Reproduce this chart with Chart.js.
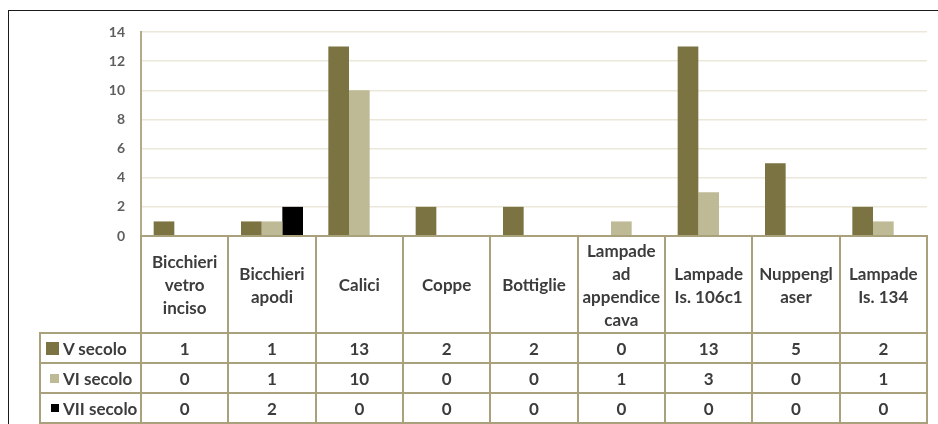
<!DOCTYPE html>
<html><head><meta charset="utf-8">
<script src="https://cdn.jsdelivr.net/npm/chart.js@4/dist/chart.umd.min.js"></script>
<style>
html,body{margin:0;padding:0;background:#fff;}
#wrap{position:relative;width:938px;height:424px;overflow:hidden;font-family:Lato,"Open Sans",sans-serif;}
#frame{position:absolute;left:8px;top:10px;width:960px;height:440px;border-left:1.5px solid #1a1a1a;border-top:1.5px solid #1a1a1a;box-sizing:border-box;}
#c{position:absolute;left:0;top:0;}
#tbl{position:absolute;left:0;top:0;width:938px;height:424px;}
.cell{position:absolute;box-sizing:border-box;border:2px solid #a8a17c;display:flex;align-items:center;justify-content:center;text-align:center;color:#3c3c3c;font-weight:700;font-size:17px;line-height:23px;background:transparent;}
.leg{justify-content:flex-start;}
.sw{position:absolute;}
.lt{position:absolute;left:22px;white-space:nowrap;}
</style></head>
<body><div id="wrap"><div id="frame"></div><canvas id="c" width="938" height="424"></canvas><div id="tbl"></div></div>
<script>
const categories = [["Bicchieri","vetro","inciso"],["Bicchieri","apodi"],["Calici"],["Coppe"],["Bottiglie"],["Lampade","ad","appendice","cava"],["Lampade","Is. 106c1"],["Nuppengl","aser"],["Lampade","Is. 134"]];
const seriesNames = ["V secolo","VI secolo","VII secolo"];
const vSecolo = [1,1,13,2,2,0,13,5,2];
const viSecolo = [0,1,10,0,0,1,3,0,1];
const viiSecolo = [0,2,0,0,0,0,0,0,0];
const yTicks = [0,2,4,6,8,10,12,14];

const seriesValues = [vSecolo, viSecolo, viiSecolo];
const seriesColors = ["#7b7341","#bfba96","#000000"];
const swatchSizes = [13,9,8];

const chart = new Chart(document.getElementById('c'), {
  type: 'bar',
  data: {
    labels: categories.map(c => c.join(' ')),
    datasets: seriesNames.map((n,i) => ({
      label: n, data: seriesValues[i], backgroundColor: seriesColors[i],
      borderWidth: 0, categoryPercentage: 0.71, barPercentage: 1.0
    }))
  },
  options: {
    responsive: false, animation: false, devicePixelRatio: 1,
    layout: { padding: { left: 0, right: 11, top: 32, bottom: 188 } },
    plugins: { legend: { display: false }, tooltip: { enabled: false } },
    scales: {
      x: { display: false },
      y: {
        min: 0, max: 14,
        afterBuildTicks: s => { s.ticks = yTicks.map(v => ({ value: v })); },
        afterFit: s => { s.width = 141; },
        grid: { color: '#ebe7da', lineWidth: 1.5, drawTicks: false },
        border: { color: '#b3ab88', width: 2 },
        ticks: { padding: 16, color: '#5e5e5e', font: { family: 'Lato', size: 14, weight: 'bold' } }
      }
    }
  }
});

(function buildTable(){
  const tbl = document.getElementById('tbl');
  const xs = chart.scales.x;
  const area = chart.chartArea;
  const step = (area.right - area.left) / categories.length;
  const legLeft = 40;
  const top0 = area.bottom;
  const rowTops = [top0, top0 + 97, top0 + 127, top0 + 157, top0 + 187];
  function cell(x0, y0, x1, y1, cls) {
    const d = document.createElement('div');
    d.className = 'cell' + (cls ? ' ' + cls : '');
    d.style.left = (x0 - 1) + 'px';
    d.style.top = (y0 - 1) + 'px';
    d.style.width = (x1 - x0 + 2) + 'px';
    d.style.height = (y1 - y0 + 2) + 'px';
    tbl.appendChild(d);
    return d;
  }
  categories.forEach((lines, i) => {
    const cx = xs.getPixelForValue(i);
    const x0 = cx - step / 2, x1 = cx + step / 2;
    const h = cell(x0, rowTops[0], x1, rowTops[1]);
    h.innerHTML = lines.join('<br>');
    seriesValues.forEach((vals, r) => {
      const c = cell(x0, rowTops[r + 1], x1, rowTops[r + 2]);
      c.textContent = String(vals[i]);
    });
  });
  seriesNames.forEach((n, r) => {
    const c = cell(legLeft, rowTops[r + 1], area.left, rowTops[r + 2], 'leg');
    const sz = swatchSizes[r];
    const sw = document.createElement('div');
    sw.className = 'sw';
    sw.style.width = sz + 'px'; sw.style.height = sz + 'px';
    sw.style.background = seriesColors[r];
    sw.style.left = (18 - sz) + 'px';
    sw.style.top = 'calc(50% - ' + (sz / 2) + 'px)';
    c.appendChild(sw);
    const t = document.createElement('span');
    t.className = 'lt';
    t.textContent = n;
    c.appendChild(t);
  });
})();
</script>
</body></html>
